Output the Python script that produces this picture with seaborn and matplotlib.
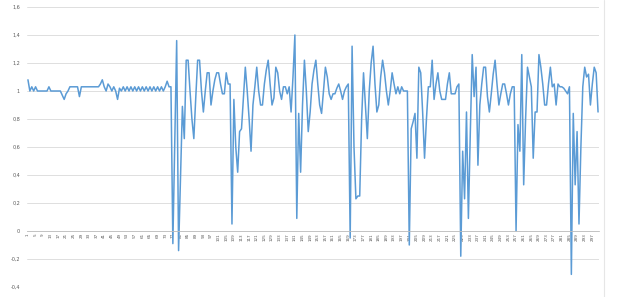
import matplotlib
matplotlib.use("Agg")
import matplotlib.pyplot as plt
import seaborn as sns
import pandas as pd
from matplotlib.ticker import FuncFormatter, FixedLocator, FixedFormatter
from matplotlib.lines import Line2D

values = [
    1.08, 1.0, 1.03, 1.0, 1.03, 1.0, 1.0, 1.0, 1.0, 1.0,
    1.0, 1.03, 1.0, 1.0, 1.0, 1.0, 1.0, 1.0, 0.97, 0.94,
    0.98, 1.0, 1.03, 1.03, 1.03, 1.03, 1.03, 0.96, 1.03, 1.03,
    1.03, 1.03, 1.03, 1.03, 1.03, 1.03, 1.03, 1.03, 1.05, 1.08,
    1.03, 1.0, 1.05, 1.03, 1.0, 1.03, 1.0, 0.94, 1.02, 1.0,
    1.03, 1.0, 1.03, 1.0, 1.03, 1.0, 1.03, 1.0, 1.03, 1.0,
    1.03, 1.0, 1.03, 1.0, 1.03, 1.0, 1.03, 1.0, 1.03, 1.0,
    1.03, 1.0, 1.03, 1.07, 1.03, 1.03, -0.09, 0.64, 1.36, -0.14,
    0.38, 0.89, 0.66, 1.22, 1.22, 1.0, 0.8, 0.66, 0.95, 1.22,
    1.22, 1.0, 0.85, 1.0, 1.13, 1.13, 0.9, 1.0, 1.08, 1.13,
    1.13, 1.05, 0.98, 0.98, 1.13, 1.05, 1.05, 0.05, 0.94, 0.6,
    0.42, 0.71, 0.73, 0.95, 1.17, 1.0, 0.8, 0.57, 0.9, 1.03,
    1.17, 1.0, 0.9, 0.9, 1.05, 1.15, 1.22, 1.05, 0.9, 0.95,
    1.17, 1.13, 1.0, 0.94, 1.03, 1.03, 0.98, 1.03, 0.85, 1.1,
    1.40, 0.09, 0.84, 0.42, 0.9, 1.22, 1.0, 0.71, 0.85, 1.05,
    1.15, 1.22, 1.05, 0.9, 0.84, 1.0, 1.17, 1.1, 0.98, 0.94,
    0.98, 0.98, 1.02, 1.05, 1.0, 0.94, 1.0, 1.03, 1.05, -0.05,
    1.32, 0.6, 0.23, 0.25, 0.25, 0.8, 1.13, 0.9, 0.66, 1.0,
    1.2, 1.32, 1.05, 0.85, 0.9, 1.1, 1.22, 1.13, 1.0, 0.9,
    1.0, 1.13, 1.05, 0.98, 1.03, 0.98, 1.03, 1.0, 1.0, 1.0,
    -0.1, 0.73, 0.78, 0.84, 0.52, 1.17, 1.13, 0.85, 0.52, 0.8,
    1.03, 1.03, 1.22, 0.94, 1.05, 1.13, 1.0, 0.94, 0.94, 0.94,
    1.05, 1.13, 0.98, 0.98, 0.98, 1.03, 1.05, -0.18, 0.57, 0.23,
    0.85, 0.09, 0.7, 1.26, 0.96, 1.17, 0.47, 0.9, 1.05, 1.17,
    1.17, 0.96, 0.85, 0.98, 1.12, 1.22, 1.05, 0.9, 0.98, 1.05,
    1.05, 0.98, 0.9, 0.98, 1.03, 1.03, 0.0, 0.76, 0.57, 1.26,
    0.33, 0.8, 1.17, 1.1, 1.03, 0.52, 0.85, 0.85, 1.26, 1.17,
    1.05, 0.9, 0.9, 1.05, 1.17, 1.03, 1.05, 0.9, 1.05, 1.03,
    1.03, 1.02, 1.0, 0.98, 1.03, -0.31, 0.84, 0.33, 0.71, 0.05,
    0.6, 1.03, 1.17, 1.1, 1.12, 0.9, 1.05, 1.17, 1.13, 0.85,
]
categories = list(range(1, len(values) + 1))
x_tick_positions = [c for c in categories if (c - 1) % 4 == 0]
x_tick_labels = [str(c) for c in x_tick_positions]
y_ticks = [-0.4, -0.2, 0, 0.2, 0.4, 0.6, 0.8, 1.0, 1.2, 1.4, 1.6]

df = pd.DataFrame({"cat": categories, "val": values})

sns.set_theme(style="white")
fig = plt.figure(figsize=(6.2, 2.97), dpi=100)
ax = fig.add_axes([27 / 620, 10 / 297, 572 / 620, 280 / 297])

sns.lineplot(data=df, x="cat", y="val", ax=ax, color="#5B9BD5", linewidth=1.1)

for s in ["top", "right", "left"]:
    ax.spines[s].set_visible(False)
ax.spines["bottom"].set_position(("data", 0))
ax.spines["bottom"].set_color("#BFBFBF")
ax.spines["bottom"].set_linewidth(0.6)

ax.set_xlim(0.5, len(values) + 0.5)
ax.set_ylim(-0.4, 1.6)
ax.yaxis.set_major_locator(FixedLocator(y_ticks))
ax.yaxis.set_major_formatter(FuncFormatter(
    lambda v, p: ("%g" % round(v, 1)).replace(".", ",")))
ax.grid(axis="y", color="#D9D9D9", linewidth=0.6)
ax.grid(axis="x", visible=False)
ax.set_axisbelow(True)

ax.xaxis.set_major_locator(FixedLocator(x_tick_positions))
ax.xaxis.set_major_formatter(FixedFormatter(x_tick_labels))
ax.tick_params(axis="x", length=0, pad=1.5, labelsize=3.0,
               labelcolor="#595959", labelrotation=90)
ax.tick_params(axis="y", length=0, pad=5, labelsize=3.5, labelcolor="#595959")

ax.set_xlabel("")
ax.set_ylabel("")

fig.add_artist(Line2D([604 / 620, 604 / 620], [0, 1], transform=fig.transFigure,
                      color="#E6E6E6", linewidth=0.8))

fig.savefig("out.png", dpi=100)
